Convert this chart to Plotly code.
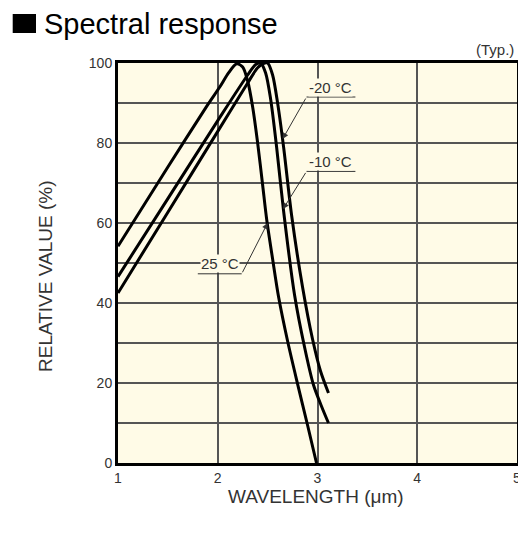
import plotly.graph_objects as go

# ---- data ----
wl_25 = [1.0, 1.5, 1.9, 2.02, 2.11, 2.19, 2.25, 2.3, 2.35, 2.4, 2.45, 2.49, 2.55, 2.61, 2.7, 2.8, 2.9, 2.99]
rv_25 = [54.2, 74.0, 89.6, 94.0, 97.6, 99.8, 99.0, 95.5, 89.0, 80.0, 69.5, 61.0, 51.0, 41.5, 30.5, 19.8, 9.5, 0.0]

wl_m10 = [1.0, 1.5, 2.0, 2.3, 2.38, 2.43, 2.48, 2.53, 2.59, 2.66, 2.77, 2.87, 2.96, 3.04, 3.11]
rv_m10 = [46.6, 66.1, 85.6, 97.0, 99.6, 100.0, 97.5, 91.0, 79.0, 63.0, 42.0, 29.0, 19.5, 14.2, 10.0]

wl_m20 = [1.0, 1.5, 2.0, 2.3, 2.4, 2.47, 2.5, 2.55, 2.6, 2.66, 2.74, 2.85, 2.95, 3.03, 3.11]
rv_m20 = [42.5, 62.7, 82.9, 95.0, 98.8, 100.0, 100.0, 97.0, 90.0, 79.0, 62.0, 44.0, 31.0, 23.0, 17.5]

series_names = ["25 °C", "-10 °C", "-20 °C"]
x_tick_vals = [1, 2, 3, 4, 5]
x_tick_text = ["1", "2", "3", "4", "5"]
y_tick_vals = [0, 10, 20, 30, 40, 50, 60, 70, 80, 90, 100]
y_tick_text = ["0", "", "20", "", "40", "", "60", "", "80", "", "100"]

# label placements (data coords): text centre, underline span, arrow tail and tip
labels = [
    dict(text="-20 °C", tx=3.135, ty=93.8, ul=(2.89, 3.38, 91.5), tail=(2.89, 91.5), tip=(2.65, 81.0)),
    dict(text="-10 °C", tx=3.135, ty=75.3, ul=(2.89, 3.38, 72.9), tail=(2.89, 72.9), tip=(2.655, 63.5)),
    dict(text="25 °C", tx=2.02, ty=50.0, ul=(1.80, 2.24, 47.3), tail=(2.24, 47.3), tip=(2.5, 60.0)),
]

BG = "#FFFBE7"
FONT = "Liberation Sans, Arial, sans-serif"

fig = go.Figure()
for wl, rv, nm in [(wl_25, rv_25, series_names[0]), (wl_m10, rv_m10, series_names[1]), (wl_m20, rv_m20, series_names[2])]:
    fig.add_trace(go.Scatter(x=wl, y=rv, mode="lines", name=nm,
                             line=dict(color="black", width=3, shape="spline", smoothing=0.8),
                             showlegend=False, hoverinfo="skip"))

L, R, T, B = 118, 1, 63, 76
W, H = 518, 539
pw, ph = W - L - R, H - T - B

def px_x(px):
    return (px - L) / pw

def px_y(py):
    return (H - B - py) / ph

shapes = []
annotations = []
for lab in labels:
    x0, x1, yy = lab["ul"]
    shapes.append(dict(type="line", xref="x", yref="y", x0=x0, x1=x1, y0=yy, y1=yy,
                       line=dict(color="#333333", width=1)))
    annotations.append(dict(x=lab["tx"], y=lab["ty"], xref="x", yref="y", text=lab["text"],
                            showarrow=False, font=dict(family=FONT, size=15, color="#333333"),
                            bgcolor=BG, borderpad=0))
    annotations.append(dict(x=lab["tip"][0], y=lab["tip"][1], xref="x", yref="y",
                            ax=lab["tail"][0], ay=lab["tail"][1], axref="x", ayref="y",
                            text="", showarrow=True, arrowhead=2, arrowsize=1.2, arrowwidth=1,
                            arrowcolor="#333333", standoff=0, startstandoff=0))

# title square
shapes.append(dict(type="rect", xref="paper", yref="paper",
                   x0=px_x(12.7), x1=px_x(36), y0=px_y(33), y1=px_y(14),
                   fillcolor="black", line=dict(width=0)))

annotations += [
    dict(x=px_x(42), y=px_y(23.5), xref="paper", yref="paper", text="Spectral response",
         xanchor="left", yanchor="middle", showarrow=False,
         font=dict(family=FONT, size=29, color="black")),
    dict(x=px_x(516), y=px_y(49), xref="paper", yref="paper", text="(Typ.)",
         xanchor="right", yanchor="middle", showarrow=False,
         font=dict(family=FONT, size=15, color="#333333")),
    dict(x=px_x(45), y=px_y(277), xref="paper", yref="paper", text="RELATIVE VALUE (%)",
         textangle=-90, xanchor="center", yanchor="middle", showarrow=False,
         font=dict(family=FONT, size=19, color="#333333")),
    dict(x=px_x(316), y=px_y(496), xref="paper", yref="paper", text="WAVELENGTH (μm)",
         xanchor="center", yanchor="middle", showarrow=False,
         font=dict(family=FONT, size=19, color="#333333")),
    # last x tick label, partly cut by the page edge as in the original
    dict(x=x_tick_vals[-1], y=px_y(478), xref="x", yref="paper", text=x_tick_text[-1],
         xanchor="center", yanchor="middle", showarrow=False,
         font=dict(family=FONT, size=14, color="#333333")),
]

fig.update_layout(
    width=W, height=H,
    margin=dict(l=L, r=R, t=T, b=B, autoexpand=False),
    paper_bgcolor="white", plot_bgcolor=BG,
    shapes=shapes, annotations=annotations,
    font=dict(family=FONT, size=14, color="#333333"),
)
fig.update_xaxes(range=[1, 5], tickvals=x_tick_vals[:-1], ticktext=x_tick_text[:-1],
                 showgrid=True, gridcolor="#555555", gridwidth=1.5,
                 showline=True, linecolor="black", linewidth=3, mirror=True,
                 ticks="", zeroline=False, tickfont=dict(size=14, color="#333333"))
fig.update_yaxes(range=[0, 100], tickvals=y_tick_vals, ticktext=y_tick_text,
                 showgrid=True, gridcolor="#555555", gridwidth=1.5,
                 showline=True, linecolor="black", linewidth=3, mirror=True,
                 ticks="", zeroline=False, tickfont=dict(size=14, color="#333333"))

fig.write_html("out.html")
